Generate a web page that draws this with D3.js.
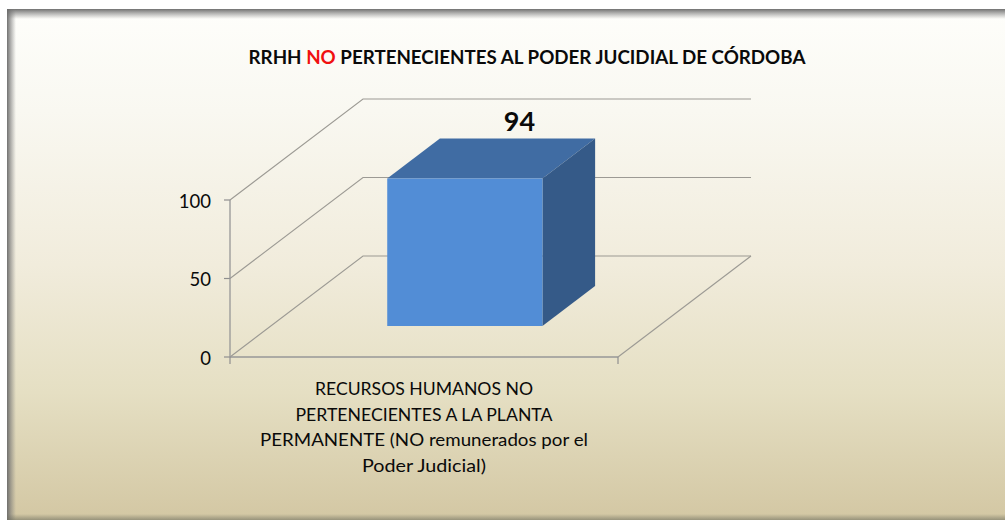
<!DOCTYPE html>
<html><head><meta charset="utf-8">
<script src="https://cdn.jsdelivr.net/npm/d3@7"></script>
<style>html,body{margin:0;padding:0;background:#fff}svg{display:block}text{font-family:Lato,"Open Sans",sans-serif;fill:#0a0a0a}</style>
</head><body><svg id="c" width="1005" height="520"></svg>
<script>
const categories=["RECURSOS HUMANOS NO PERTENECIENTES A LA PLANTA PERMANENTE (NO remunerados por el Poder Judicial)"];
const values=[94];
const yTicks=[0,50,100];
const categoryLines=["RECURSOS HUMANOS NO","PERTENECIENTES A LA PLANTA","PERMANENTE (NO remunerados por el","Poder Judicial)"];
const titleParts=[["RRHH ","#0a0a0a"],["NO","#f01010"],[" PERTENECIENTES AL PODER JUCIDIAL DE CÓRDOBA","#0a0a0a"]];

const svg=d3.select("#c"),W=1005,H=520;
const defs=svg.append("defs");
function grad(id,stops,x2,y2){const g=defs.append("linearGradient").attr("id",id).attr("x1",0).attr("y1",0).attr("x2",x2).attr("y2",y2);
 stops.forEach(s=>g.append("stop").attr("offset",s[0]).attr("stop-color",s[1]).attr("stop-opacity",s[2]===undefined?1:s[2]));}
grad("bg",[[0,"#fefefb"],[.2,"#f9f8f1"],[.5,"#f1ecdc"],[.75,"#e5dfc3"],[1,"#d3c7a3"]],0,1);
grad("st",[[0,"#6a6a6a",.95],[1,"#808080",0]],0,1);
grad("sl",[[0,"#6a6a6a",.95],[1,"#808080",0]],1,0);
grad("sb",[[0,"#707060",0],[1,"#707060",.6]],0,1);
const L=7,T=9,R=1005,B=520;
svg.append("rect").attr("x",L).attr("y",T).attr("width",R-L).attr("height",B-T).attr("fill","url(#bg)");
svg.append("rect").attr("x",L).attr("y",T).attr("width",R-L).attr("height",10).attr("fill","url(#st)");
svg.append("rect").attr("x",L).attr("y",T).attr("width",9).attr("height",B-T).attr("fill","url(#sl)");
svg.append("rect").attr("x",L).attr("y",B-6).attr("width",R-L).attr("height",6).attr("fill","url(#sb)");

// 3D projection through scales
const y=d3.scaleLinear().domain([0,100]).range([357,200]);
const x=d3.scaleLinear().domain([0,1]).range([230,618]);
const dx=d3.scaleLinear().domain([0,1]).range([0,133]);
const dy=d3.scaleLinear().domain([0,1]).range([0,-101]);
const P=(u,v,d)=>[x(u)+dx(d),y(v)+dy(d)];
const line=d3.line();
const grid="#9c9a94";
const g=svg.append("g").attr("fill","none");
yTicks.forEach(t=>{
 g.append("path").attr("d",line([P(0,t,0),P(0,t,1),P(1,t,1)])).attr("stroke",grid).attr("stroke-width",1.1);
 g.append("line").attr("x1",x(0)-6).attr("x2",x(0)).attr("y1",y(t)).attr("y2",y(t)).attr("stroke","#8f8f8f").attr("stroke-width",1.2);
});
g.append("path").attr("d",line([P(1,0,0),P(1,0,1)])).attr("stroke",grid).attr("stroke-width",1.1);
g.append("line").attr("x1",x(0)).attr("x2",x(0)).attr("y1",y(0)).attr("y2",y(100)).attr("stroke","#979797").attr("stroke-width",1.3);
g.append("line").attr("x1",x(0)).attr("x2",x(1)).attr("y1",y(0)).attr("y2",y(0)).attr("stroke","#979797").attr("stroke-width",1.5);
[0,1].forEach(u=>g.append("line").attr("x1",x(u)).attr("x2",x(u)).attr("y1",y(0)).attr("y2",y(0)+7).attr("stroke","#8f8f8f").attr("stroke-width",1.2));

// bar
const band=d3.scaleBand().domain(categories).range([0,1]).paddingInner(0).paddingOuter(0.75);
const d0=0.307,d1=0.703;
categories.forEach((c,i)=>{
 const u0=band(c),u1=u0+band.bandwidth(),v=values[i];
 const poly=(pts,f)=>svg.append("polygon").attr("points",pts.join(" ")).attr("fill",f);
 poly([P(u0,v,d0),P(u0,v,d1),P(u1,v,d1),P(u1,v,d0)],"#406ca3");
 poly([P(u1,0,d0),P(u1,v,d0),P(u1,v,d1),P(u1,0,d1)],"#355a88");
 poly([P(u0,0,d0),P(u0,v,d0),P(u1,v,d0),P(u1,0,d0)],"#528dd6");
 const top=P((u0+u1)/2,v,d1);
 svg.append("text").attr("x",top[0]+2).attr("y",top[1]-7).attr("text-anchor","middle").attr("font-size",27).attr("font-weight",700).text(v);
});
yTicks.forEach(t=>svg.append("text").attr("x",x(0)-19).attr("y",y(t)+7.5).attr("text-anchor","end").attr("font-size",18.5).text(t));
const lineLengths=[218,257,328,124];
categoryLines.forEach((l,i)=>svg.append("text").attr("x",424).attr("y",395+i*25.5).attr("text-anchor","middle").attr("font-size",18).attr("textLength",lineLengths[i]).attr("lengthAdjust","spacingAndGlyphs").text(l));
const tt=svg.append("text").attr("x",527).attr("y",64).attr("text-anchor","middle").attr("font-size",18.75).attr("font-weight",700);
titleParts.forEach(p=>tt.append("tspan").style("fill",p[1]).text(p[0]));
</script></body></html>
